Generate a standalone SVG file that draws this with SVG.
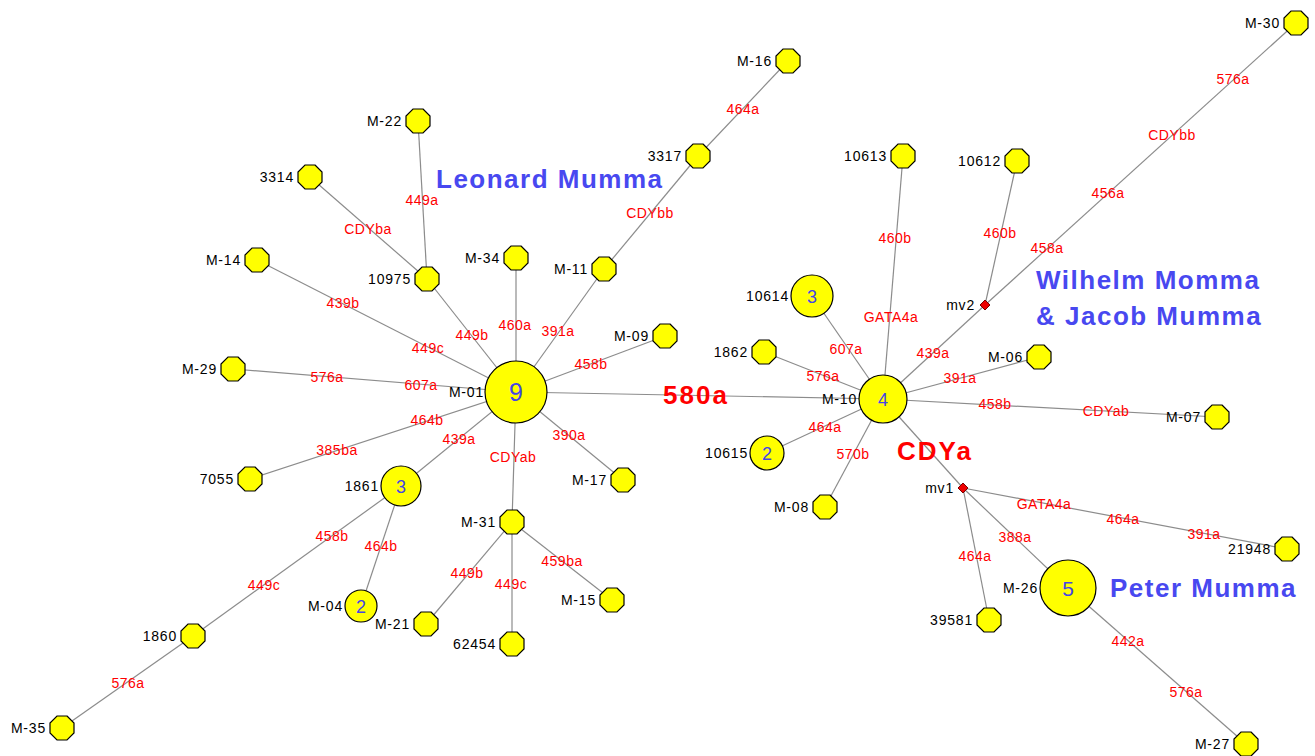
<svg xmlns="http://www.w3.org/2000/svg" xmlns:xlink="http://www.w3.org/1999/xlink" width="1315" height="756" viewBox="0 0 1315 756">
<defs>
<polygon id="oct" points="5,-12 12,-5 12,5 5,12 -5,12 -12,5 -12,-5 -5,-12"/>
<polygon id="dia" points="0,-5 5,0 0,5 -5,0"/>
<style>
.bg{fill:#ffffff}
.e{stroke:#8c8c8c;stroke-width:1.2;fill:none}
.n{fill:#ffff00;stroke:#000000;stroke-width:1.2}
.mv{fill:#ee0000;stroke:#7a0000;stroke-width:1}
.nl{font-family:"Liberation Sans",Arial,sans-serif;font-size:14px;letter-spacing:0.8px;fill:#000000;text-anchor:end}
.el{font-family:"Liberation Sans",Arial,sans-serif;font-size:14px;letter-spacing:0.5px;fill:#ff0000;text-anchor:middle}
.big{font-family:"Liberation Sans",Arial,sans-serif;font-size:26px;font-weight:bold;letter-spacing:2px;fill:#ff0000}
.num{font-family:"Liberation Sans",Arial,sans-serif;font-size:18px;fill:#4545e6;text-anchor:middle}
.ttl{font-family:"Liberation Sans",Arial,sans-serif;font-size:26px;font-weight:bold;letter-spacing:1.5px;fill:#4848f0}
</style>
</defs>
<rect class="bg" x="0" y="0" width="1315" height="756"/>
<g id="connectors">
<line class="e" x1="516" y1="392" x2="427" y2="279"/>
<line class="e" x1="427" y1="279" x2="418" y2="121"/>
<line class="e" x1="427" y1="279" x2="310" y2="177"/>
<line class="e" x1="516" y1="392" x2="257" y2="260"/>
<line class="e" x1="516" y1="392" x2="516" y2="258"/>
<line class="e" x1="516" y1="392" x2="604" y2="269"/>
<line class="e" x1="604" y1="269" x2="698" y2="156"/>
<line class="e" x1="698" y1="156" x2="788" y2="61"/>
<line class="e" x1="516" y1="392" x2="665" y2="336"/>
<line class="e" x1="516" y1="392" x2="233" y2="369"/>
<line class="e" x1="516" y1="392" x2="250" y2="479"/>
<line class="e" x1="516" y1="392" x2="401" y2="486"/>
<line class="e" x1="516" y1="392" x2="512" y2="522"/>
<line class="e" x1="516" y1="392" x2="623" y2="480"/>
<line class="e" x1="516" y1="392" x2="883" y2="399"/>
<line class="e" x1="401" y1="486" x2="361" y2="606"/>
<line class="e" x1="401" y1="486" x2="193" y2="636"/>
<line class="e" x1="193" y1="636" x2="62" y2="728"/>
<line class="e" x1="512" y1="522" x2="426" y2="624"/>
<line class="e" x1="512" y1="522" x2="512" y2="644"/>
<line class="e" x1="512" y1="522" x2="612" y2="600"/>
<line class="e" x1="883" y1="399" x2="903" y2="156"/>
<line class="e" x1="883" y1="399" x2="812" y2="296"/>
<line class="e" x1="883" y1="399" x2="764" y2="352"/>
<line class="e" x1="883" y1="399" x2="985" y2="305"/>
<line class="e" x1="985" y1="305" x2="1017" y2="161"/>
<line class="e" x1="985" y1="305" x2="1296" y2="23"/>
<line class="e" x1="883" y1="399" x2="1039" y2="357"/>
<line class="e" x1="883" y1="399" x2="1217" y2="417"/>
<line class="e" x1="883" y1="399" x2="767" y2="453"/>
<line class="e" x1="883" y1="399" x2="825" y2="507"/>
<line class="e" x1="883" y1="399" x2="963" y2="488"/>
<line class="e" x1="963" y1="488" x2="1287" y2="549"/>
<line class="e" x1="963" y1="488" x2="989" y2="620"/>
<line class="e" x1="963" y1="488" x2="1068" y2="588"/>
<line class="e" x1="1068" y1="588" x2="1246" y2="744"/>
<g id="edge-labels">
<text class="el" x="472" y="340">449b</text>
<text class="el" x="422" y="205">449a</text>
<text class="el" x="368" y="234">CDYba</text>
<text class="el" x="343" y="308">439b</text>
<text class="el" x="428" y="353">449c</text>
<text class="el" x="515" y="330">460a</text>
<text class="el" x="558" y="336">391a</text>
<text class="el" x="650" y="218">CDYbb</text>
<text class="el" x="743" y="114">464a</text>
<text class="el" x="591" y="369">458b</text>
<text class="el" x="327" y="382">576a</text>
<text class="el" x="421" y="390">607a</text>
<text class="el" x="337" y="455">385ba</text>
<text class="el" x="427" y="425">464b</text>
<text class="el" x="459" y="444">439a</text>
<text class="el" x="513" y="462">CDYab</text>
<text class="el" x="569" y="440">390a</text>
<text class="el" x="381" y="551">464b</text>
<text class="el" x="332" y="541">458b</text>
<text class="el" x="264" y="590">449c</text>
<text class="el" x="128" y="688">576a</text>
<text class="el" x="467" y="578">449b</text>
<text class="el" x="511" y="589">449c</text>
<text class="el" x="562" y="566">459ba</text>
<text class="el" x="895" y="243">460b</text>
<text class="el" x="891" y="322">GATA4a</text>
<text class="el" x="846" y="354">607a</text>
<text class="el" x="823" y="381">576a</text>
<text class="el" x="933" y="358">439a</text>
<text class="el" x="1000" y="238">460b</text>
<text class="el" x="1047" y="253">458a</text>
<text class="el" x="1108" y="198">456a</text>
<text class="el" x="1172" y="140">CDYbb</text>
<text class="el" x="1233" y="84">576a</text>
<text class="el" x="960" y="383">391a</text>
<text class="el" x="995" y="409">458b</text>
<text class="el" x="1106" y="416">CDYab</text>
<text class="el" x="825" y="432">464a</text>
<text class="el" x="853" y="459">570b</text>
<text class="el" x="1044" y="509">GATA4a</text>
<text class="el" x="1123" y="524">464a</text>
<text class="el" x="1204" y="539">391a</text>
<text class="el" x="1015" y="542">388a</text>
<text class="el" x="975" y="561">464a</text>
<text class="el" x="1128" y="646">442a</text>
<text class="el" x="1186" y="697">576a</text>
<text class="big" x="663" y="404">580a</text>
<text class="big" x="897" y="460">CDYa</text>
</g>
</g>
<g id="titles">
<text class="ttl" x="436" y="188">Leonard Mumma</text>
<text class="ttl" x="1036" y="289">Wilhelm Momma</text>
<text class="ttl" x="1036" y="325">&amp; Jacob Mumma</text>
<text class="ttl" x="1110" y="597">Peter Mumma</text>
</g>
<g id="M-01"><circle class="n" cx="516" cy="392" r="31"/><text class="num" x="516" y="401" style="font-size:25px">9</text><text class="nl" x="484" y="397">M-01</text></g>
<g id="M-10"><circle class="n" cx="883" cy="399" r="24"/><text class="num" x="883" y="406">4</text><text class="nl" x="857" y="404">M-10</text></g>
<g id="n10614"><circle class="n" cx="812" cy="296" r="21"/><text class="num" x="812" y="303">3</text><text class="nl" x="789" y="301">10614</text></g>
<g id="n10615"><circle class="n" cx="767" cy="453" r="17"/><text class="num" x="767" y="460">2</text><text class="nl" x="748" y="458">10615</text></g>
<g id="n1861"><circle class="n" cx="401" cy="486" r="20"/><text class="num" x="401" y="493">3</text><text class="nl" x="379" y="491">1861</text></g>
<g id="M-04"><circle class="n" cx="361" cy="606" r="16"/><text class="num" x="361" y="613">2</text><text class="nl" x="343" y="611">M-04</text></g>
<g id="M-26"><circle class="n" cx="1068" cy="588" r="28"/><text class="num" x="1068" y="596" style="font-size:21px">5</text><text class="nl" x="1038" y="593">M-26</text></g>
<g id="M-16"><use xlink:href="#oct" href="#oct" class="n" x="788" y="61"/><text class="nl" x="772" y="66">M-16</text></g>
<g id="M-22"><use xlink:href="#oct" href="#oct" class="n" x="418" y="121"/><text class="nl" x="402" y="126">M-22</text></g>
<g id="n3314"><use xlink:href="#oct" href="#oct" class="n" x="310" y="177"/><text class="nl" x="294" y="182">3314</text></g>
<g id="n3317"><use xlink:href="#oct" href="#oct" class="n" x="698" y="156"/><text class="nl" x="682" y="161">3317</text></g>
<g id="n10613"><use xlink:href="#oct" href="#oct" class="n" x="903" y="156"/><text class="nl" x="887" y="161">10613</text></g>
<g id="n10612"><use xlink:href="#oct" href="#oct" class="n" x="1017" y="161"/><text class="nl" x="1001" y="166">10612</text></g>
<g id="M-30"><use xlink:href="#oct" href="#oct" class="n" x="1296" y="23"/><text class="nl" x="1280" y="28">M-30</text></g>
<g id="M-14"><use xlink:href="#oct" href="#oct" class="n" x="257" y="260"/><text class="nl" x="241" y="265">M-14</text></g>
<g id="n10975"><use xlink:href="#oct" href="#oct" class="n" x="427" y="279"/><text class="nl" x="411" y="284">10975</text></g>
<g id="M-34"><use xlink:href="#oct" href="#oct" class="n" x="516" y="258"/><text class="nl" x="500" y="263">M-34</text></g>
<g id="M-11"><use xlink:href="#oct" href="#oct" class="n" x="604" y="269"/><text class="nl" x="588" y="274">M-11</text></g>
<g id="M-09"><use xlink:href="#oct" href="#oct" class="n" x="665" y="336"/><text class="nl" x="649" y="341">M-09</text></g>
<g id="n1862"><use xlink:href="#oct" href="#oct" class="n" x="764" y="352"/><text class="nl" x="748" y="357">1862</text></g>
<g id="M-06"><use xlink:href="#oct" href="#oct" class="n" x="1039" y="357"/><text class="nl" x="1023" y="362">M-06</text></g>
<g id="M-29"><use xlink:href="#oct" href="#oct" class="n" x="233" y="369"/><text class="nl" x="217" y="374">M-29</text></g>
<g id="M-07"><use xlink:href="#oct" href="#oct" class="n" x="1217" y="417"/><text class="nl" x="1201" y="422">M-07</text></g>
<g id="n7055"><use xlink:href="#oct" href="#oct" class="n" x="250" y="479"/><text class="nl" x="234" y="484">7055</text></g>
<g id="M-17"><use xlink:href="#oct" href="#oct" class="n" x="623" y="480"/><text class="nl" x="607" y="485">M-17</text></g>
<g id="M-08"><use xlink:href="#oct" href="#oct" class="n" x="825" y="507"/><text class="nl" x="809" y="512">M-08</text></g>
<g id="M-31"><use xlink:href="#oct" href="#oct" class="n" x="512" y="522"/><text class="nl" x="496" y="527">M-31</text></g>
<g id="n21948"><use xlink:href="#oct" href="#oct" class="n" x="1287" y="549"/><text class="nl" x="1271" y="554">21948</text></g>
<g id="M-15"><use xlink:href="#oct" href="#oct" class="n" x="612" y="600"/><text class="nl" x="596" y="605">M-15</text></g>
<g id="M-21"><use xlink:href="#oct" href="#oct" class="n" x="426" y="624"/><text class="nl" x="410" y="629">M-21</text></g>
<g id="n39581"><use xlink:href="#oct" href="#oct" class="n" x="989" y="620"/><text class="nl" x="973" y="625">39581</text></g>
<g id="n1860"><use xlink:href="#oct" href="#oct" class="n" x="193" y="636"/><text class="nl" x="177" y="641">1860</text></g>
<g id="n62454"><use xlink:href="#oct" href="#oct" class="n" x="512" y="644"/><text class="nl" x="496" y="649">62454</text></g>
<g id="M-35"><use xlink:href="#oct" href="#oct" class="n" x="62" y="728"/><text class="nl" x="46" y="733">M-35</text></g>
<g id="M-27"><use xlink:href="#oct" href="#oct" class="n" x="1246" y="744"/><text class="nl" x="1230" y="749">M-27</text></g>
<g id="mv2"><use xlink:href="#dia" href="#dia" class="mv" x="985" y="305"/><text class="nl" x="975" y="310">mv2</text></g>
<g id="mv1"><use xlink:href="#dia" href="#dia" class="mv" x="963" y="488"/><text class="nl" x="954" y="493">mv1</text></g>
</svg>
